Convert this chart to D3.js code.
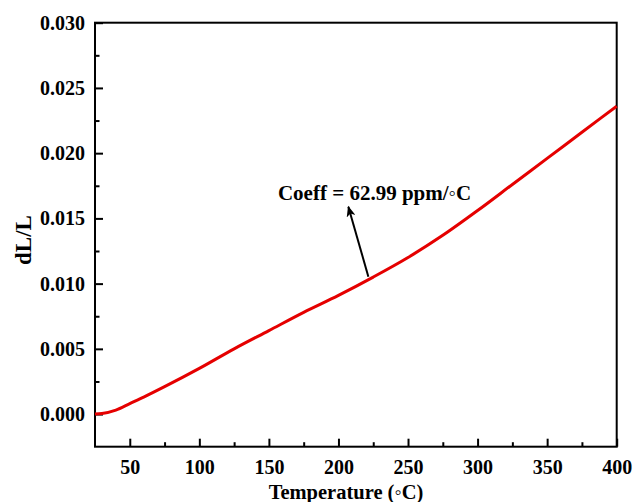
<!DOCTYPE html>
<html>
<head>
<meta charset="utf-8">
<script src="https://cdn.jsdelivr.net/npm/d3@7"></script>
<style>
  body { margin: 0; background: #fff; }
  text { font-family: "Liberation Serif", "Times New Roman", serif; font-weight: bold; }
</style>
</head>
<body>
<div id="chart"></div>
<script>
// temperature (°C) and relative length change
const temps = [25, 30, 40, 50, 60, 75, 100, 125, 150, 175, 200, 225, 250, 275, 300, 325, 350, 375, 400]
const dLL   = [0, 0.00004, 0.0003, 0.0008, 0.0013, 0.0021, 0.0035, 0.0050, 0.0064, 0.0078,
               0.0091, 0.0105, 0.0120, 0.0137, 0.0156, 0.0176, 0.0196, 0.0216, 0.0236]

const xMajor = [50, 100, 150, 200, 250, 300, 350, 400]
const xMinor = [75, 125, 175, 225, 275, 325, 375]
const yMajor = [0, 0.005, 0.010, 0.015, 0.020, 0.025, 0.030]
const yMinor = [0.0025, 0.0075, 0.0125, 0.0175, 0.0225, 0.0275]

const note = { text: "Coeff = 62.99 ppm/\u25E6C", t: 156.5, v: 0.0164 }
const arrowFrom = { t: 221.5, v: 0.01053 }
const arrowTo = { t: 207.1, v: 0.0159 }

const W = 634, H = 502
const margin = { top: 22.7, right: 17.3, bottom: 55.3, left: 95 }
const w = W - margin.left - margin.right
const h = H - margin.top - margin.bottom

const svg = d3.select('#chart').append('svg')
  .attr('width', W)
  .attr('height', H)

svg.append('defs').append('marker')
  .attr('id', 'head')
  .attr('viewBox', '0 0 12 10')
  .attr('refX', 11).attr('refY', 5)
  .attr('markerWidth', 12).attr('markerHeight', 9)
  .attr('markerUnits', 'userSpaceOnUse')
  .attr('orient', 'auto')
  .append('path')
  .attr('d', 'M0,0 L12,5 L0,10 L3,5 Z')
  .attr('fill', '#000')

const g = svg.append('g').attr('transform', `translate(${margin.left},${margin.top})`)

const x = d3.scaleLinear().domain([25, 400]).range([0, w])
const y = d3.scaleLinear().domain([-0.0025, 0.030]).range([h, 0])

// minor ticks first, then major axes with labels
g.append('g').attr('transform', `translate(0,${h})`)
  .call(d3.axisBottom(x).tickValues(xMinor).tickSize(-4.5).tickFormat(''))
g.append('g')
  .call(d3.axisLeft(y).tickValues(yMinor).tickSize(-4.5).tickFormat(''))

const xAxis = g.append('g').attr('transform', `translate(0,${h})`)
  .call(d3.axisBottom(x).tickValues(xMajor).tickSize(-8).tickPadding(13).tickFormat(d3.format('d')))
const yAxis = g.append('g')
  .call(d3.axisLeft(y).tickValues(yMajor).tickSize(-8).tickPadding(10).tickFormat(d3.format('.3f')))

g.selectAll('.domain').remove()
g.selectAll('.tick line').attr('stroke', '#000').attr('stroke-width', 2)
xAxis.selectAll('text').attr('font-size', 20).attr('fill', '#000')
yAxis.selectAll('text').attr('font-size', 20).attr('fill', '#000')

// frame
g.append('rect')
  .attr('width', w).attr('height', h)
  .attr('fill', 'none')
  .attr('stroke', '#000')
  .attr('stroke-width', 2)

const line = d3.line()
  .x((d, i) => x(temps[i]))
  .y(d => y(d))
  .curve(d3.curveMonotoneX)

g.append('path')
  .datum(dLL)
  .attr('d', line)
  .attr('fill', 'none')
  .attr('stroke', '#e50000')
  .attr('stroke-width', 3)

g.append('line')
  .attr('x1', x(arrowFrom.t)).attr('y1', y(arrowFrom.v))
  .attr('x2', x(arrowTo.t)).attr('y2', y(arrowTo.v))
  .attr('stroke', '#000')
  .attr('stroke-width', 2)
  .attr('marker-end', 'url(#head)')

g.append('text')
  .attr('x', x(note.t)).attr('y', y(note.v))
  .attr('font-size', 21)
  .text(note.text)

// axis titles
svg.append('text')
  .attr('x', 346).attr('y', 499)
  .attr('text-anchor', 'middle')
  .attr('font-size', 20.5)
  .text('Temperature (\u25E6C)')

svg.append('text')
  .attr('transform', `translate(31,${240}) rotate(-90)`)
  .attr('text-anchor', 'middle')
  .attr('font-size', 23)
  .text('dL/L')
</script>
</body>
</html>
